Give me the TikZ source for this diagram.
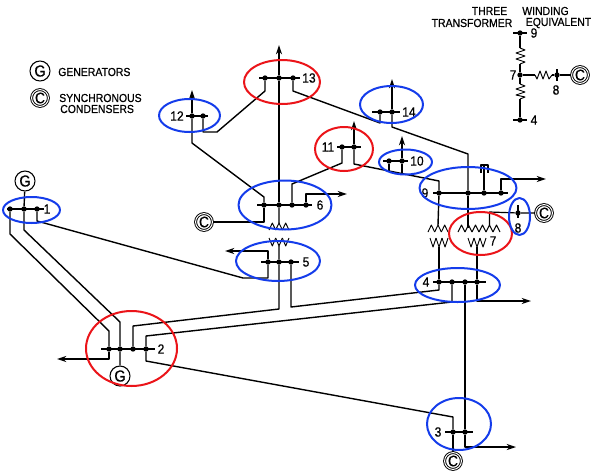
\documentclass[tikz,border=0pt]{standalone}
\usepackage{fontspec}
\setmainfont{Liberation Sans}
\newfontfamily\inkfont[FakeBold=0.6,FakeStretch=0.9]{Liberation Sans}
\usetikzlibrary{arrows.meta}
\definecolor{ringblue}{RGB}{20,60,235}
\definecolor{ringred}{RGB}{235,20,25}
\newcommand{\busdot}[3]{\node[busnode] (#1) at (#2,#3) {};}
\newcommand{\busbar}[4]{\coordinate (#1l) at (#2,#4); \coordinate (#1r) at (#3,#4); \draw[barline] (#1l) -- (#1r);}
\newcommand{\windup}[6]{% name, x0, step, n, base, peak
  \foreach \i in {1,...,#4} {\draw[coil] ({#2+(\i-1)*#3},#5) -- ({#2+(\i-.5)*#3},#6) -- ({#2+\i*#3},#5);}
  \coordinate (#1) at ({#2+#4*#3/2},#6);}
\begin{document}
\begin{tikzpicture}[x=0.75pt,y=-0.75pt,
  line join=round,
  busnode/.style={circle,fill=black,inner sep=0pt,minimum size=4pt},
  barline/.style={line width=1.35pt,black},
  wire/.style={line width=1.05pt,black},
  outarrow/.style={wire,-{Stealth[length=7pt,width=4.6pt]}},
  coil/.style={line width=.7pt,black},
  ring/.style={line width=1.5pt},
  blue ring/.style={ring,draw=ringblue},
  red ring/.style={ring,draw=ringred},
  gen/.style={circle,draw=black,fill=white,line width=.8pt,inner sep=0pt,minimum size=15pt,font=\inkfont\fontsize{12}{12}\selectfont},
  cond/.style={circle,draw=black,fill=white,double=white,double distance=.75pt,line width=.7pt,inner sep=0pt,minimum size=12.6pt,font=\inkfont\fontsize{11.5}{11.5}\selectfont},
  lab/.style={inner sep=0pt,font=\inkfont\fontsize{10}{10}\selectfont},
  txt/.style={inner sep=0pt,font=\inkfont\fontsize{8.7}{8.7}\selectfont}]
\useasboundingbox (0,0) rectangle (599,475);
\fill[white] (0,0) rectangle (599,475);

% bus bars
\busbar{B1}{7}{44}{209}
\busbar{B2}{101}{155}{349}
\busbar{B3}{445}{473}{432}
\busbar{B4}{433}{486}{282}
\busbar{B5}{261}{299}{262}
\busbar{B6}{257}{312}{205}
\busbar{B9}{433}{508}{193}
\busbar{B10}{383}{408}{161}
\busbar{B11}{337}{361}{147}
\busbar{B12}{186}{208}{116}
\busbar{B13}{259}{300}{78}
\busbar{B14}{372}{400}{112}
\coordinate (B8t) at (518,205); \coordinate (B8b) at (518,218);
\draw[barline] (B8t) -- (B8b);

% bus dots
\busdot{a1}{10}{209}\busdot{b1}{24}{209}\busdot{c1}{37}{209}
\busdot{a2}{109}{349}\busdot{b2}{120}{349}\busdot{c2}{133}{349}\busdot{d2}{146}{349}
\busdot{a3}{453}{432}\busdot{b3}{465}{432}
\busdot{a4}{439}{282}\busdot{b4}{452}{282}\busdot{c4}{465}{282}\busdot{d4}{477}{282}
\busdot{a5}{268}{262}\busdot{b5}{279}{262}\busdot{c5}{291}{262}
\busdot{a6}{264}{205}\busdot{b6}{279}{205}\busdot{c6}{292}{205}\busdot{d6}{306}{205}
\busdot{a8}{518}{213}
\busdot{a9}{439}{193}\busdot{b9}{468}{193}\busdot{c9}{484}{193}\busdot{d9}{501}{193}
\busdot{a10}{389}{161}\busdot{b10}{402}{161}
\busdot{a11}{342}{147}\busdot{b11}{354}{147}
\busdot{a12}{192}{116}\busdot{b12}{203}{116}
\busdot{a13}{265}{78}\busdot{b13}{279}{78}\busdot{c13}{293}{78}
\busdot{a14}{380}{112}\busdot{b14}{392}{112}

% machines
\node[gen] (G1) at (25,181) {G};
\node[gen] (G2) at (120,376) {G};
\node[cond] (C3) at (453,461) {C};
\node[cond] (C6) at (204,222) {C};
\node[cond] (C8) at (544,213) {C};

% windings
\windup{Ta}{428}{6.67}{3}{232}{225}
\windup{Tb}{458}{7}{6}{232}{225}
\windup{Tc}{430}{6}{3}{238}{247}
\windup{Td}{468}{6}{3}{238}{247}
\windup{Te}{269}{6.67}{3}{230}{223}
\windup{Tf}{269}{6.67}{3}{238}{246}

% lines
\draw[wire] (G1) -- (b1) -- (24,230) -- (120,322) -- (b2) -- (G2);
\draw[wire] (a1) -- (10,234) -- (109,331) -- (a2);
\draw[wire] (c1) -- (37,221) -- (243,278) -- (268,278) -- (a5);
\draw[outarrow] (a2) -- (109,359) -- (57,359);
\draw[wire] (c2) -- (133,326) -- (279,309) -- (b5);
\draw[wire] (d2) -- (146,336) -- (452,302) -- (b4);
\draw[wire] (d2) -- (146,361) -- (453,417) -- (a3);
\draw[wire] (a3) -- (C3);
\draw[wire] (c5) -- (291,307) -- (439,290) -- (a4);
\draw[wire] (c4) -- (b3);
\draw[outarrow] (b3) -- (465,447) -- (516,447);
\draw[outarrow] (a5) -- (268,251) -- (225,251);
\draw[wire] (b5) -- (Tf);
\draw[wire] (b6) -- (Te);
\draw[outarrow] (b13) -- (279,45);
\draw[wire] (b13) -- (b6);
\draw[wire] (a6) -- (264,222) -- (C6);
\draw[wire] (a6) -- (264,197) -- (192,143) -- (a12);
\draw[outarrow] (a12) -- (192,90);
\draw[wire] (b12) -- (203,132) -- (217,132) -- (265,91) -- (a13);
\draw[wire] (c13) -- (293,91) -- (380,123) -- (a14);
\draw[outarrow] (b14) -- (392,79);
\draw[wire] (b14) -- (392,127) -- (468,154) -- (b9);
\draw[wire] (b9) -- (468,228);
\draw[wire] (c6) -- (292,184) -- (342,163) -- (a11);
\draw[outarrow] (d6) -- (306,194) -- (347,194);
\draw[outarrow] (b11) -- (354,121);
\draw[wire] (b11) -- (354,164) -- (439,181) -- (a9);
\draw[wire] (a10) -- (389,171);
\draw[wire] (b10) -- (402,174);
\draw[outarrow] (b10) -- (402,136);
\draw[wire] (a9) -- (Ta);
\draw[wire] (a4) -- (Tc);
\draw[wire] (d4) -- (Td);
\draw[outarrow] (d4) -- (477,301) -- (531,301);
\draw[outarrow] (d9) -- (501,179) -- (546,179);
\draw[wire,line width=.9pt] (489.5,225) -- (489.5,212) -- (a8) -- (C8);
% capacitor on bus 9
\draw[wire] (c9) -- (484,165);
\draw[wire,line width=.8pt] (481,173) -- (481,165) -- (488,165) -- (488,173);

% three winding transformer equivalent
\coordinate (E9l) at (513,33); \coordinate (E9r) at (527,33);
\draw[barline] (E9l) -- (E9r);
\coordinate (E4l) at (513,120); \coordinate (E4r) at (527,120);
\draw[barline] (E4l) -- (E4r);
\coordinate (E8t) at (557,69); \coordinate (E8b) at (557,81);
\draw[barline] (E8t) -- (E8b);
\busdot{e9}{520}{33}\busdot{e7}{520}{75}\busdot{e4}{520}{120}\busdot{e8}{557}{75}
\node[cond] (EC) at (580,75) {C};
\draw[wire] (e9) -- (520,48);
\draw[coil] (520,48) -- (525,50) -- (516,53) -- (525,56) -- (516,59) -- (525,62) -- (520,64);
\draw[wire] (520,64) -- (e7);
\draw[wire] (e7) -- (520,84);
\draw[coil] (520,84) -- (525,86) -- (516,89) -- (525,92) -- (516,95) -- (525,97) -- (520,99);
\draw[wire] (520,99) -- (e4);
\draw[wire] (e7) -- (535,75);
\draw[coil] (535,75) -- (537,79) -- (540,71) -- (543,79) -- (546,71) -- (549,79) -- (552,75);
\draw[wire] (552,75) -- (e8) -- (EC);

% labels
\node[lab] (L1) at (47,209) {1};
\node[lab] (L2) at (161,349) {2};
\node[lab] (L3) at (438,432) {3};
\node[lab] (L4) at (426,282) {4};
\node[lab] (L5) at (306,262) {5};
\node[lab] (L6) at (320,205) {6};
\node[lab] (L7) at (493,241) {7};
\node[lab] (L8) at (518,228) {8};
\node[lab] (L9) at (425,193) {9};
\node[lab] (L10) at (417,161) {10};
\node[lab] (L11) at (328,147) {11};
\node[lab] (L12) at (177,116) {12};
\node[lab] (L13) at (309,78) {13};
\node[lab] (L14) at (409,112) {14};
\node[lab] (EL9) at (534,33) {9};
\node[lab] (EL7) at (513,75) {7};
\node[lab] (EL8) at (556,90) {8};
\node[lab] (EL4) at (534,120) {4};

% legend and titles
\node[gen] (LG) at (40,71) {G};
\node[cond] (LC) at (40,98) {C};
\node[txt,anchor=west] (Tg) at (58,72) {GENERATORS};
\node[txt,anchor=west] (Ts) at (59,98) {SYNCHRONOUS};
\node[txt,anchor=west] (Tc2) at (60,109) {CONDENSERS};
\node[txt] (H1) at (489.5,11) {THREE};
\node[txt] (H2) at (545.5,11) {WINDING};
\node[txt] (H3) at (472,23) {TRANSFORMER};
\node[txt] (H4) at (558.5,23) {EQUIVALENT};

% highlight ellipses
\draw[blue ring] (31.5,210) ellipse [x radius=28.5,y radius=13];
\draw[red ring] (131.5,348.5) ellipse [x radius=45.5,y radius=37.5];
\draw[blue ring] (459,424) ellipse [x radius=32,y radius=26];
\draw[blue ring] (457.5,285) ellipse [x radius=42.5,y radius=17];
\draw[blue ring] (278,261) ellipse [x radius=42,y radius=20];
\draw[blue ring] (285,205) ellipse [x radius=46.5,y radius=24.5];
\draw[red ring] (480.5,233.5) ellipse [x radius=31.5,y radius=21.5];
\draw[blue ring] (519.5,216.5) ellipse [x radius=10.5,y radius=18.5];
\draw[blue ring] (468,188) ellipse [x radius=48.5,y radius=21];
\draw[blue ring] (405.5,162) ellipse [x radius=26.5,y radius=12.5];
\draw[red ring] (344,149) ellipse [x radius=29,y radius=22];
\draw[blue ring] (189.5,115.5) ellipse [x radius=30.5,y radius=16.5];
\draw[red ring] (282,82) ellipse [x radius=38,y radius=22];
\draw[blue ring] (391.5,104.5) ellipse [x radius=31.5,y radius=18.5];
\end{tikzpicture}
\end{document}
